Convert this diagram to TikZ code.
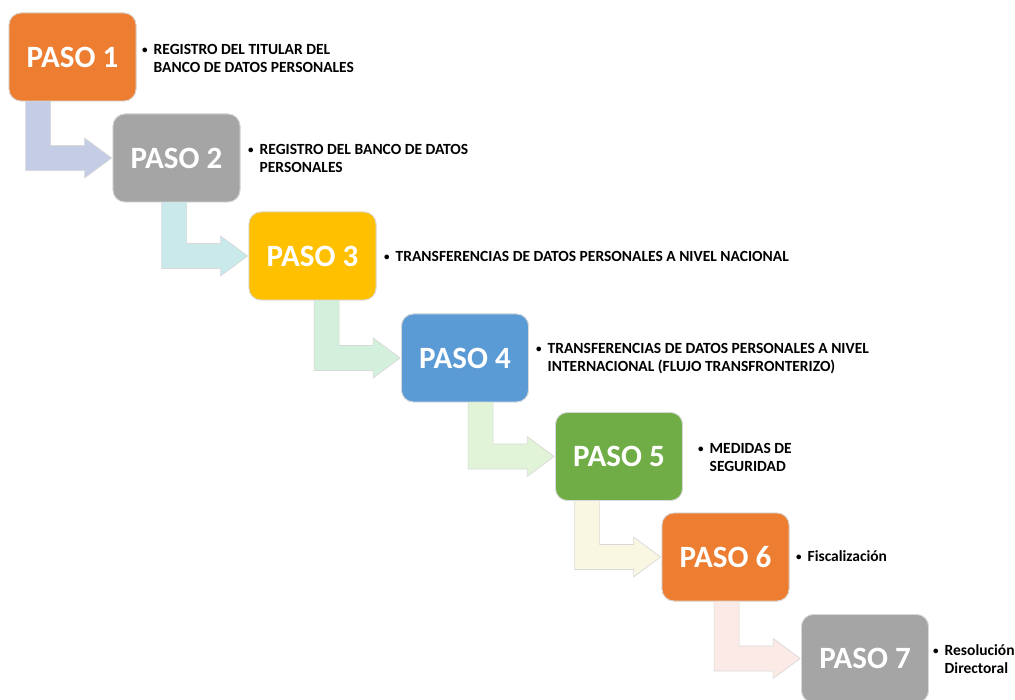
\documentclass[tikz,border=0pt]{standalone}
\usepackage{fontspec}
\setmainfont{Carlito}
\usetikzlibrary{calc}

\definecolor{pOrange}{HTML}{ED7D31}
\definecolor{pGray}{HTML}{A5A5A5}
\definecolor{pGold}{HTML}{FFC000}
\definecolor{pBlue}{HTML}{5B9BD5}
\definecolor{pGreen}{HTML}{70AD47}
\definecolor{aOne}{HTML}{C4CCE6}
\definecolor{aTwo}{HTML}{C9E9EA}
\definecolor{aThree}{HTML}{D2F0DC}
\definecolor{aFour}{HTML}{E2F4D8}
\definecolor{aFive}{HTML}{F9F7E1}
\definecolor{aSix}{HTML}{FBEAE6}
\definecolor{edgeGray}{HTML}{D9D9D9}

\tikzset{
  pasobox/.style={rectangle, rounded corners=12pt, minimum width=127pt,
    minimum height=88pt, inner sep=0pt, draw=edgeGray, line width=0.8pt,
    fill=#1, text=white, font=\fontsize{31}{36}\selectfont\bfseries},
  pasolabel/.style={anchor=west, inner sep=0pt, align=left,
    font=\fontsize{15.5}{18}\selectfont\bfseries},
  bentarrow/.style={fill=#1, draw=edgeGray, line width=0.7pt}
}

% bent arrow leaving the bottom of #1 and pointing into the left side of #2
\newcommand{\stepconnector}[3]{%
  \path[bentarrow=#3] let \p1=(#1.south), \p2=(#2.west) in
    (\x2-87pt,\y1+2pt) -- (\x2-62pt,\y1+2pt) -- (\x2-62pt,\y2+12.5pt)
    -- (\x2-28pt,\y2+12.5pt) -- (\x2-28pt,\y2+20pt) -- (\x2-1pt,\y2)
    -- (\x2-28pt,\y2-20pt) -- (\x2-28pt,\y2-12.5pt) -- (\x2-87pt,\y2-12.5pt)
    -- cycle;}

\newcommand{\smallbullet}{\raisebox{1.2pt}{\fontsize{11}{11}\selectfont\textbullet}}
\newcommand{\bulletlines}[1]{%
  \begin{tabular}{@{}l@{\hspace{6pt}}l@{}}\smallbullet & #1\end{tabular}}

\begin{document}
\begin{tikzpicture}[x=1pt, y=-1pt]
\useasboundingbox (0,0) rectangle (1015,700);
\clip (0,0) rectangle (1015,700);

% step boxes (placed first so the connectors can refer to them)
\path
  (72.5,57)   node[pasobox=pOrange] (b1) {PASO 1}
  (176.5,158) node[pasobox=pGray]   (b2) {PASO 2}
  (312.5,256) node[pasobox=pGold]   (b3) {PASO 3}
  (465,358)   node[pasobox=pBlue]   (b4) {PASO 4}
  (619,456.5) node[pasobox=pGreen]  (b5) {PASO 5}
  (725.5,557) node[pasobox=pOrange] (b6) {PASO 6}
  (865,658.5) node[pasobox=pGray]   (b7) {PASO 7};

% connectors
\stepconnector{b1}{b2}{aOne}
\stepconnector{b2}{b3}{aTwo}
\stepconnector{b3}{b4}{aThree}
\stepconnector{b4}{b5}{aFour}
\stepconnector{b5}{b6}{aFive}
\stepconnector{b6}{b7}{aSix}

% boxes again, above the connector stems
\path
  (72.5,57)   node[pasobox=pOrange] {PASO 1}
  (176.5,158) node[pasobox=pGray]   {PASO 2}
  (312.5,256) node[pasobox=pGold]   {PASO 3}
  (465,358)   node[pasobox=pBlue]   {PASO 4}
  (619,456.5) node[pasobox=pGreen]  {PASO 5}
  (725.5,557) node[pasobox=pOrange] {PASO 6}
  (865,658.5) node[pasobox=pGray]   {PASO 7};

% descriptions
\node[pasolabel] (t1) at (142,60)  {\bulletlines{REGISTRO DEL TITULAR DEL\\ & BANCO DE DATOS PERSONALES}};
\node[pasolabel] (t2) at (248,160) {\bulletlines{REGISTRO DEL BANCO DE DATOS\\ & PERSONALES}};
\node[pasolabel] (t3) at (384,258) {\bulletlines{TRANSFERENCIAS DE DATOS PERSONALES A NIVEL NACIONAL}};
\node[pasolabel] (t4) at (536,359) {\bulletlines{TRANSFERENCIAS DE DATOS PERSONALES A NIVEL\\ & INTERNACIONAL (FLUJO TRANSFRONTERIZO)}};
\node[pasolabel] (t5) at (698,459) {\bulletlines{MEDIDAS DE\\ & SEGURIDAD}};
\node[pasolabel] (t6) at (796,558) {\bulletlines{Fiscalización}};
\node[pasolabel] (t7) at (933,661) {\bulletlines{Resolución\\ & Directoral}};
\end{tikzpicture}
\end{document}
